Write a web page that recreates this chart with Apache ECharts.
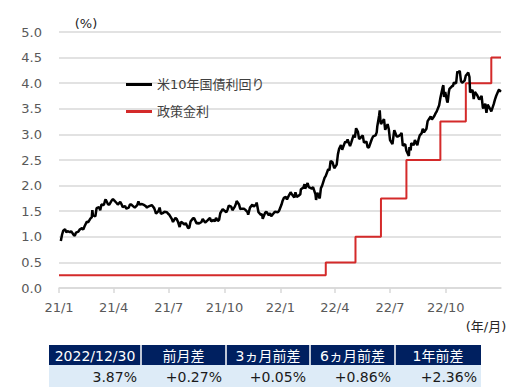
<!DOCTYPE html>
<html>
<head>
<meta charset="utf-8">
<script src="https://cdn.jsdelivr.net/npm/echarts@6/dist/echarts.min.js"></script>
<style>
html,body{margin:0;padding:0;background:#fff;}
#chart{width:529px;height:387px;}
</style>
</head>
<body>
<div id="chart"></div>
<script>
// ---- data ----
const seriesNames = ['米10年国債利回り', '政策金利'];
const yAxisTicks = [0, 0.5, 1.0, 1.5, 2.0, 2.5, 3.0, 3.5, 4.0, 4.5, 5.0];
const xTickLabels = ['21/1', '21/4', '21/7', '21/10', '22/1', '22/4', '22/7', '22/10'];

const yieldDates2021 = ['01-04','01-06','01-08','01-11','01-13','01-15','01-19','01-21','01-25','01-27','01-29',
 '02-02','02-04','02-08','02-10','02-12','02-16','02-18','02-22','02-24','02-25','02-26',
 '03-02','03-04','03-08','03-10','03-12','03-16','03-18','03-19','03-23','03-25','03-29','03-31',
 '04-02','04-06','04-08','04-12','04-14','04-16','04-20','04-22','04-26','04-28','04-30',
 '05-04','05-06','05-10','05-12','05-14','05-18','05-20','05-24','05-26','05-28',
 '06-01','06-03','06-07','06-09','06-10','06-14','06-16','06-18','06-22','06-24','06-28','06-30',
 '07-02','07-06','07-08','07-12','07-14','07-16','07-19','07-21','07-23','07-27','07-29',
 '08-02','08-04','08-06','08-10','08-12','08-16','08-18','08-20','08-24','08-26','08-30',
 '09-01','09-03','09-07','09-09','09-13','09-15','09-17','09-20','09-22','09-24','09-28','09-30',
 '10-04','10-06','10-08','10-12','10-14','10-18','10-20','10-21','10-25','10-27','10-29',
 '11-02','11-04','11-08','11-09','11-12','11-16','11-18','11-22','11-23','11-26','11-30',
 '12-02','12-03','12-07','12-09','12-13','12-15','12-17','12-21','12-23','12-28','12-30'];
const yield2021 = [0.92,1.04,1.12,1.15,1.09,1.11,1.09,1.11,1.04,1.02,1.08,
 1.10,1.14,1.17,1.14,1.20,1.30,1.28,1.36,1.38,1.52,1.42,
 1.40,1.56,1.58,1.52,1.63,1.62,1.71,1.73,1.63,1.63,1.71,1.74,
 1.71,1.66,1.63,1.68,1.64,1.58,1.60,1.55,1.57,1.63,1.63,
 1.59,1.57,1.62,1.69,1.63,1.64,1.63,1.60,1.57,1.59,
 1.61,1.62,1.56,1.49,1.45,1.50,1.57,1.45,1.47,1.49,1.48,1.45,
 1.43,1.35,1.29,1.37,1.35,1.30,1.19,1.29,1.28,1.24,1.27,
 1.17,1.18,1.30,1.36,1.36,1.26,1.27,1.26,1.29,1.35,1.28,
 1.30,1.32,1.37,1.30,1.33,1.30,1.37,1.31,1.33,1.46,1.54,1.52,
 1.48,1.53,1.61,1.59,1.52,1.59,1.65,1.70,1.63,1.54,1.55,
 1.55,1.53,1.48,1.43,1.57,1.63,1.59,1.63,1.67,1.48,1.43,
 1.44,1.35,1.47,1.49,1.42,1.46,1.40,1.46,1.49,1.48,1.51];

const yieldDates2022 = ['01-03','01-05','01-07','01-10','01-12','01-14','01-18','01-20','01-24','01-26','01-28',
 '02-01','02-03','02-04','02-08','02-10','02-11','02-15','02-17','02-22','02-24','02-28',
 '03-01','03-03','03-07','03-09','03-11','03-15','03-17','03-21','03-23','03-25','03-28','03-31',
 '04-04','04-06','04-08','04-11','04-13','04-18','04-20','04-22','04-26','04-28',
 '05-02','05-04','05-06','05-09','05-11','05-13','05-17','05-19','05-23','05-25','05-27',
 '06-01','06-03','06-07','06-09','06-10','06-13','06-14','06-15','06-16','06-21','06-23','06-27','06-29',
 '07-01','07-05','07-07','07-08','07-12','07-14','07-18','07-20','07-22','07-26','07-28',
 '08-01','08-02','08-04','08-05','08-09','08-11','08-15','08-17','08-19','08-22','08-24','08-26','08-30',
 '09-01','09-06','09-08','09-12','09-14','09-16','09-20','09-22','09-26','09-27','09-28','09-30',
 '10-03','10-04','10-06','10-07','10-11','10-13','10-14','10-18','10-20','10-21','10-24','10-26','10-28',
 '11-01','11-03','11-04','11-07','11-09','11-10','11-14','11-16','11-18','11-22','11-25','11-29',
 '12-01','12-02','12-05','12-07','12-09','12-13','12-15','12-19','12-21','12-23','12-27','12-28','12-29','12-30'];
const yield2022 = [1.63,1.71,1.76,1.78,1.73,1.78,1.87,1.83,1.77,1.87,1.78,
 1.81,1.83,1.93,1.96,2.03,1.94,2.05,1.97,1.94,1.97,1.83,
 1.72,1.86,1.75,1.95,2.00,2.15,2.19,2.32,2.30,2.48,2.46,2.34,
 2.41,2.61,2.72,2.79,2.70,2.86,2.84,2.90,2.77,2.84,
 2.99,2.94,3.12,3.05,2.91,2.93,2.98,2.84,2.86,2.75,2.74,
 2.91,2.96,2.98,3.04,3.16,3.37,3.47,3.29,3.20,3.30,3.09,3.20,3.10,
 2.89,2.81,3.00,3.08,2.96,2.96,2.99,3.03,2.78,2.81,2.68,
 2.58,2.75,2.69,2.83,2.79,2.89,2.79,2.90,2.98,3.02,3.11,3.04,3.11,
 3.26,3.35,3.29,3.36,3.41,3.45,3.57,3.71,3.93,3.96,3.73,3.83,
 3.65,3.62,3.83,3.89,3.94,3.95,4.01,4.00,4.23,4.21,4.24,4.04,4.01,
 4.05,4.15,4.16,4.21,4.12,3.82,3.87,3.69,3.83,3.76,3.68,3.75,
 3.53,3.51,3.60,3.42,3.58,3.50,3.45,3.59,3.68,3.75,3.86,3.88,3.83,3.87];

const policyDates = ['2021-01-01','2022-03-17','2022-05-05','2022-06-16','2022-07-28','2022-09-22','2022-11-03','2022-12-15','2022-12-31'];
const policyRates = [0.25, 0.5, 1.0, 1.75, 2.5, 3.25, 4.0, 4.5, 4.5];

const tableHeaders = ['2022/12/30', '前月差', '3ヵ月前差', '6ヵ月前差', '1年前差'];
const tableValues = ['3.87%', '+0.27%', '+0.05%', '+0.86%', '+2.36%'];

// ---- build ----
const categories = [];
for (let t = Date.UTC(2021,0,1); t <= Date.UTC(2022,11,31); t += 86400000) {
  categories.push(new Date(t).toISOString().slice(0,10));
}
const labelOf = v => v.slice(2,4) + '/' + parseInt(v.slice(5,7), 10);
const isTick = (i, v) => v.slice(8) === '01' && xTickLabels.indexOf(labelOf(v)) >= 0;

const yieldData = yieldDates2021.map((d,i) => ['2021-' + d, yield2021[i]])
  .concat(yieldDates2022.map((d,i) => ['2022-' + d, yield2022[i]]));
const policyData = policyDates.map((d,i) => [d, policyRates[i]]);

const FONT = '"DejaVu Sans", "Noto Sans CJK JP", sans-serif';
const colEdges = [49, 141, 226, 310, 395, 481];
const tableEls = [];
tableEls.push({type:'rect', shape:{x:colEdges[0], y:345, width:colEdges[5]-colEdges[0], height:20}, style:{fill:'#002060'}});
tableEls.push({type:'rect', shape:{x:colEdges[0], y:365, width:colEdges[5]-colEdges[0], height:22}, style:{fill:'#ddebf7'}});
for (let c = 1; c < 5; c++) {
  tableEls.push({type:'rect', shape:{x:colEdges[c]-0.75, y:345, width:1.5, height:20}, style:{fill:'#ffffff'}});
}
for (let c = 0; c < 5; c++) {
  tableEls.push({type:'text', x:(colEdges[c]+colEdges[c+1])/2, y:355.5,
    style:{text:tableHeaders[c], fill:'#ffffff', font:'14px ' + FONT, align:'center', verticalAlign:'middle'}});
  tableEls.push({type:'text', x:colEdges[c+1]-4, y:376.5,
    style:{text:tableValues[c], fill:'#1a1a1a', font:'14px ' + FONT, align:'right', verticalAlign:'middle'}});
}

const chart = echarts.init(document.getElementById('chart'), null, {renderer:'svg'});
chart.setOption({
  animation: false,
  backgroundColor: '#ffffff',
  textStyle: {fontFamily: FONT},
  grid: {left: 59, right: 28, top: 32, bottom: 99, containLabel: false},
  legend: {
    orient: 'vertical', left: 121, top: 73, itemGap: 14,
    icon: 'rect', itemWidth: 26, itemHeight: 3,
    data: seriesNames,
    textStyle: {fontSize: 13, color: '#404040', fontFamily: FONT}
  },
  xAxis: {
    type: 'category', data: categories, boundaryGap: false,
    axisLine: {lineStyle: {color: '#d9d9d9', width: 1.5}},
    axisTick: {interval: isTick, length: 5, lineStyle: {color: '#d9d9d9', width: 1.5}},
    axisLabel: {interval: isTick, formatter: labelOf, margin: 13, fontSize: 13, color: '#595959', fontFamily: FONT},
    splitLine: {show: false}
  },
  yAxis: {
    type: 'value', min: yAxisTicks[0], max: yAxisTicks[yAxisTicks.length-1], interval: 0.5,
    axisLine: {show: false}, axisTick: {show: false},
    axisLabel: {formatter: v => v.toFixed(1), margin: 17, fontSize: 13, color: '#595959', fontFamily: FONT},
    splitLine: {lineStyle: {color: '#d9d9d9', width: 1.5}}
  },
  graphic: [
    {type:'text', x:86, y:23, style:{text:'(%)', fill:'#262626', font:'13px ' + FONT, align:'center', verticalAlign:'middle'}},
    {type:'text', x:486, y:326, style:{text:'(年/月)', fill:'#262626', font:'13px ' + FONT, align:'center', verticalAlign:'middle'}},
    {type:'group', children: tableEls}
  ],
  series: [
    {name: seriesNames[0], type: 'line', data: yieldData, showSymbol: false, symbol: 'none',
     color: '#000000', lineStyle: {color: '#000000', width: 2.5}, z: 3},
    {name: seriesNames[1], type: 'line', data: policyData, step: 'end', showSymbol: false, symbol: 'none',
     color: '#d42a2a', lineStyle: {color: '#d42a2a', width: 2}, z: 2}
  ]
});
</script>
</body>
</html>
